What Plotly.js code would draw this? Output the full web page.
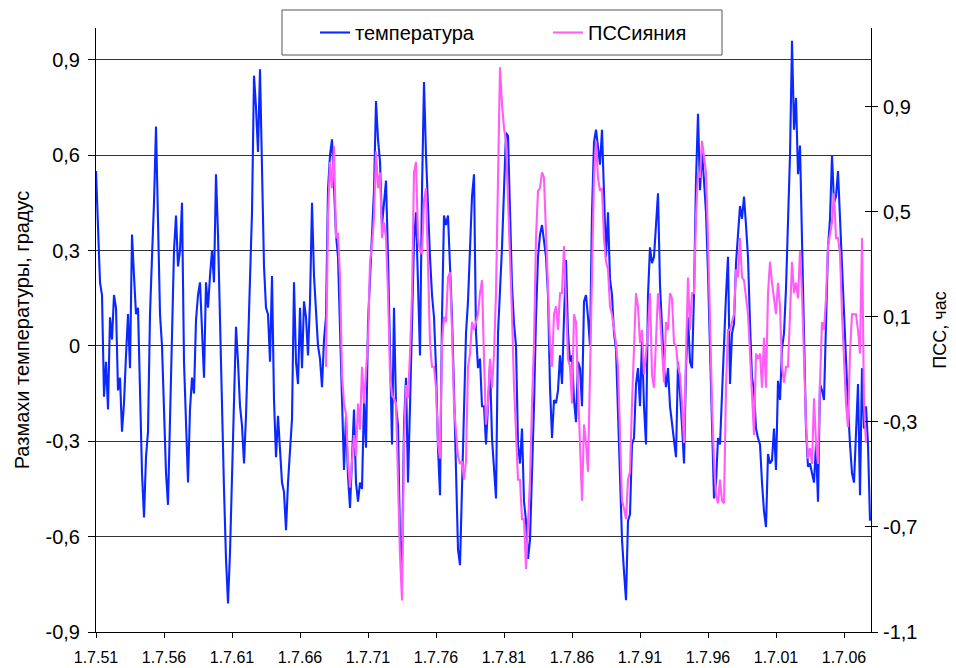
<!DOCTYPE html>
<html>
<head>
<meta charset="utf-8">
<script src="https://cdn.plot.ly/plotly-3.0.1.min.js"></script>
<style>
html,body{margin:0;padding:0;background:#fff;}
#chart{width:956px;height:668px;}
</style>
</head>
<body>
<div id="chart"></div>
<script>
// ---- data ----
const xTickVals = [1951.5, 1956.5, 1961.5, 1966.5, 1971.5, 1976.5, 1981.5, 1986.5, 1991.5, 1996.5, 2001.5, 2006.5];
const xTickText = ["1.7.51", "1.7.56", "1.7.61", "1.7.66", "1.7.71", "1.7.76", "1.7.81", "1.7.86", "1.7.91", "1.7.96", "1.7.01", "1.7.06"];
const leftTickVals = [-0.9, -0.6, -0.3, 0, 0.3, 0.6, 0.9];
const leftTickText = ["-0,9", "-0,6", "-0,3", "0", "0,3", "0,6", "0,9"];
const rightTickVals = [-1.1, -0.7, -0.3, 0.1, 0.5, 0.9];
const rightTickText = ["-1,1", "-0,7", "-0,3", "0,1", "0,5", "0,9"];

// sampling: one value every 0.147 year
const sampleStepYears = 0.1470588;
const tempStartYear = 1951.5;
const pssStartYear = 1968.4118;

// Размахи температуры, градус
const temperature = [
 0.55,0.34,0.2,0.16,-0.16,-0.05,-0.2,0.09,0.02,0.16,0.12,-0.14,-0.1,-0.27,-0.18,-0.03,0.1,-0.07,0.35,0.22,
 0.1,0.12,-0.13,-0.4,-0.54,-0.35,-0.27,0.1,0.28,0.45,0.69,0.4,0.1,0.0,-0.2,-0.4,-0.5,-0.2,0.1,0.3,
 0.41,0.25,0.3,0.45,-0.05,-0.23,-0.43,-0.2,-0.1,-0.15,0.08,0.16,0.2,0.05,-0.1,0.2,0.12,0.22,0.3,0.2,
 0.54,0.35,0.05,-0.2,-0.45,-0.67,
 -0.81,-0.65,-0.4,-0.14,0.06,-0.05,-0.19,-0.25,-0.37,-0.22,0.04,0.21,0.42,0.85,0.75,0.61,0.87,0.57,0.25,0.12,
 0.1,-0.05,0.22,-0.17,-0.35,-0.22,-0.31,-0.43,-0.46,-0.58,-0.43,-0.31,-0.23,0.2,-0.05,-0.12,0.12,-0.07,0.14,0.09,
 -0.03,0.14,0.45,0.22,0.09,0.0,-0.04,-0.13,0.02,0.09,0.49,0.6,0.65,0.52,0.35,0.28,0.04,-0.14,-0.39,-0.22,
 -0.41,-0.51,-0.37,-0.2,-0.43,
 -0.49,-0.43,-0.45,-0.17,-0.32,0.07,0.23,0.34,0.49,0.77,0.65,0.58,0.38,0.45,0.52,0.28,-0.07,-0.31,0.12,-0.19,
 -0.25,-0.61,-0.69,-0.25,-0.1,-0.43,-0.19,0.07,0.33,0.42,0.22,-0.03,0.49,0.83,0.6,0.42,0.28,0.16,0.09,-0.07,
 -0.32,-0.47,0.09,0.41,0.38,0.41,0.26,0.09,-0.14,-0.37,-0.64,-0.69,-0.43,-0.19,0.04,0.14,0.31,0.47,0.54,0.04,
 -0.07,-0.04,-0.19,-0.19,-0.31,
 -0.19,-0.06,-0.29,-0.4,-0.48,0.04,0.16,0.31,0.49,0.67,0.66,0.38,0.19,0.07,0.0,-0.31,-0.37,-0.26,-0.49,-0.55,
 -0.67,-0.61,-0.43,-0.19,0.09,0.28,0.35,0.38,0.33,0.28,0.16,-0.13,-0.29,-0.17,-0.18,-0.14,-0.03,-0.12,0.09,0.27,
 0.04,-0.05,-0.03,-0.17,-0.24,-0.05,-0.07,-0.19,0.14,0.16,0.09,0.0,0.42,0.64,0.68,0.62,0.57,0.68,0.45,0.28,
 0.42,0.21,0.16,0.04,-0.01,
 -0.19,-0.43,-0.61,-0.71,-0.8,-0.55,-0.53,-0.31,-0.29,-0.12,-0.07,-0.19,0.02,-0.19,-0.31,0.16,0.31,0.26,0.28,0.38,
 0.48,0.19,0.07,-0.07,-0.13,-0.07,-0.19,-0.24,-0.29,-0.35,-0.05,-0.14,-0.25,-0.37,-0.07,0.09,-0.05,-0.07,0.16,0.52,
 0.73,0.49,0.61,0.52,0.42,0.23,-0.03,-0.29,-0.48,-0.43,-0.29,-0.31,-0.14,-0.03,0.16,0.28,-0.12,0.04,0.07,0.26,
 0.35,0.44,0.4,0.47,0.38,
 0.28,0.07,-0.1,-0.14,-0.26,-0.29,-0.31,-0.43,-0.52,-0.57,-0.34,-0.37,-0.36,-0.26,-0.39,-0.11,-0.17,-0.01,0.04,0.18,
 0.36,0.6,0.96,0.68,0.78,0.54,0.63,0.33,-0.03,-0.26,-0.38,-0.37,-0.4,-0.43,-0.31,-0.49,-0.12,-0.14,-0.17,0.09,
 0.31,0.4,0.6,0.45,0.47,0.55,0.4,0.23,0.09,-0.07,-0.19,-0.31,-0.4,-0.43,-0.25,-0.12,-0.47,-0.07,-0.26,-0.19,
 -0.31,-0.55
];

// ПСС сияния, час
const pss = [
 -0.09,0.48,0.69,0.59,0.75,0.40,0.42,0.25,-0.12,-0.23,-0.27,-0.45,-0.55,-0.45,-0.35,-0.43,-0.23,-0.33,-0.09,-0.23,
 -0.12,0.01,0.31,0.37,0.48,0.73,0.59,0.65,0.40,0.46,0.40,0.19,-0.12,-0.20,-0.21,-0.23,-0.52,-0.81,-0.98,-0.38,
 -0.16,-0.21,-0.04,0.19,0.65,0.69,0.40,0.35,0.34,0.54,0.59,0.27,0.0,-0.09,-0.09,-0.17,-0.38,-0.44,0.0,0.10,
 0.08,0.25,0.27,0.05,-0.23,-0.34,-0.43,-0.46,-0.45,-0.52,-0.45,-0.09,-0.04,0.08,0.05,0.08,0.11,0.19,0.24,-0.06,
 -0.31,-0.23,-0.06,-0.17,-0.04,0.19,0.65,1.05,0.91,0.82,0.77,0.56,0.28,0.11,-0.16,-0.38,-0.52,-0.52,-0.67,-0.67,
 -0.86,-0.69,-0.52,-0.23,0.0,0.40,0.58,0.59,0.65,0.63,0.40,0.19,0.0,-0.09,0.11,0.14,0.05,0.19,0.19,0.37,
 0.17,-0.06,-0.09,-0.23,0.11,0.08,-0.17,-0.38,-0.60,-0.31,-0.38,-0.49,-0.09,0.28,0.63,0.77,0.63,0.58,0.59,0.40,
 0.31,0.28,0.14,0.11,0.05,0.0,-0.09,-0.38,-0.60,-0.63,-0.67,-0.52,-0.49,-0.23,0.02,0.19,0.14,0.0,0.05,-0.12,
 -0.04,0.05,0.19,-0.12,-0.17,0.05,0.19,0.11,-0.04,-0.15,0.08,0.05,0.19,0.17,0.0,-0.01,-0.09,-0.12,-0.23,-0.38,
 -0.04,0.25,0.05,0.19,0.19,0.48,0.65,0.63,0.77,0.71,0.65,0.40,0.05,-0.23,-0.45,-0.58,-0.61,-0.52,-0.60,-0.61,
 -0.17,0.05,0.05,0.08,0.11,0.28,0.25,0.40,0.25,0.24,0.17,0.11,-0.04,-0.23,-0.35,-0.04,-0.06,-0.04,-0.17,0.02,
 -0.17,0.19,0.31,0.23,0.17,0.11,0.23,0.14,-0.09,-0.15,-0.09,-0.09,0.11,0.31,0.19,0.23,0.17,0.35,0.19,-0.04,
 -0.31,-0.44,-0.40,-0.46,-0.21,-0.38,-0.46,-0.15,0.08,0.05,0.17,0.37,0.42,0.46,0.57,0.40,0.40,0.34,0.11,-0.09,
 -0.23,-0.32,-0.04,0.11,0.11,0.11,0.05,-0.04,0.40,-0.23,-0.38
];

const FONT = '"Liberation Sans", Arial, sans-serif';

const traces = [
  {
    type: 'scatter', mode: 'lines', name: 'температура',
    x0: tempStartYear, dx: sampleStepYears, y: temperature,
    xaxis: 'x', yaxis: 'y',
    line: {color: '#0a28ff', width: 2.1}
  },
  {
    type: 'scatter', mode: 'lines', name: 'ПССияния',
    x0: pssStartYear, dx: sampleStepYears, y: pss,
    xaxis: 'x', yaxis: 'y2',
    line: {color: '#ff5cf8', width: 2.1}
  }
];

const layout = {
  width: 956, height: 668,
  margin: {l: 96, r: 85, t: 28, b: 36, pad: 0},
  paper_bgcolor: '#ffffff', plot_bgcolor: '#ffffff',
  font: {family: FONT, size: 16, color: '#000'},
  showlegend: true,
  hovermode: false,
  xaxis: {
    type: 'linear', range: [1951.5, 2008.485],
    tickmode: 'array', tickvals: xTickVals, ticktext: xTickText,
    showgrid: false, zeroline: false,
    showline: true, linecolor: '#000', linewidth: 1,
    ticks: 'outside', ticklen: 5, tickcolor: '#000', tickwidth: 1,
    ticklabelstandoff: 6,
    tickfont: {family: FONT, size: 16, color: '#000'}
  },
  yaxis: {
    range: [-0.9, 1.0],
    tickmode: 'array', tickvals: leftTickVals, ticktext: leftTickText,
    showgrid: true, gridcolor: '#333', gridwidth: 1,
    zeroline: false,
    showline: true, linecolor: '#000', linewidth: 1,
    ticks: 'outside', ticklen: 7, tickcolor: '#000', tickwidth: 1,
    ticklabelstandoff: 4,
    tickfont: {family: FONT, size: 20, color: '#000'},
    title: {text: 'Размахи температуры, градус', font: {family: FONT, size: 20, color: '#000'}, standoff: 10}
  },
  yaxis2: {
    overlaying: 'y', side: 'right', anchor: 'x',
    range: [-1.1, 1.2],
    tickmode: 'array', tickvals: rightTickVals, ticktext: rightTickText,
    showgrid: false, zeroline: false,
    showline: true, linecolor: '#000', linewidth: 1,
    ticks: 'outside', ticklen: 6, tickcolor: '#000', tickwidth: 1,
    ticklabelstandoff: 1,
    tickfont: {family: FONT, size: 20, color: '#000'},
    title: {text: 'ПСС, час', font: {family: FONT, size: 18, color: '#000'}, standoff: 16}
  },
  yaxis3: {
    overlaying: 'y', side: 'right', anchor: 'x',
    range: [-1.1, 1.2],
    tickmode: 'array', tickvals: rightTickVals,
    showticklabels: false, showgrid: false, zeroline: false, showline: false,
    ticks: 'inside', ticklen: 6, tickcolor: '#000', tickwidth: 1
  },
  legend: {
    orientation: 'h',
    x: (315 - 96) / 775, xanchor: 'left',
    y: (632 - 32.5) / 604, yanchor: 'middle',
    bgcolor: 'rgba(0,0,0,0)', borderwidth: 0,
    entrywidth: 188, entrywidthmode: 'pixels',
    font: {family: FONT, size: 20, color: '#000'}
  },
  shapes: [
    {type: 'rect', xref: 'paper', yref: 'paper',
     x0: (282 - 96) / 775, x1: (722 - 96) / 775,
     y0: (632 - 55) / 604, y1: (632 - 10) / 604,
     line: {color: '#555', width: 1}, fillcolor: '#fff', layer: 'above'}
  ]
};

// empty trace that switches on the crossing right-axis tick marks
traces.push({type: 'scatter', mode: 'lines', x: [], y: [], yaxis: 'y3', showlegend: false, hoverinfo: 'skip'});

Plotly.newPlot('chart', traces, layout, {displayModeBar: false, staticPlot: true});
</script>
</body>
</html>
